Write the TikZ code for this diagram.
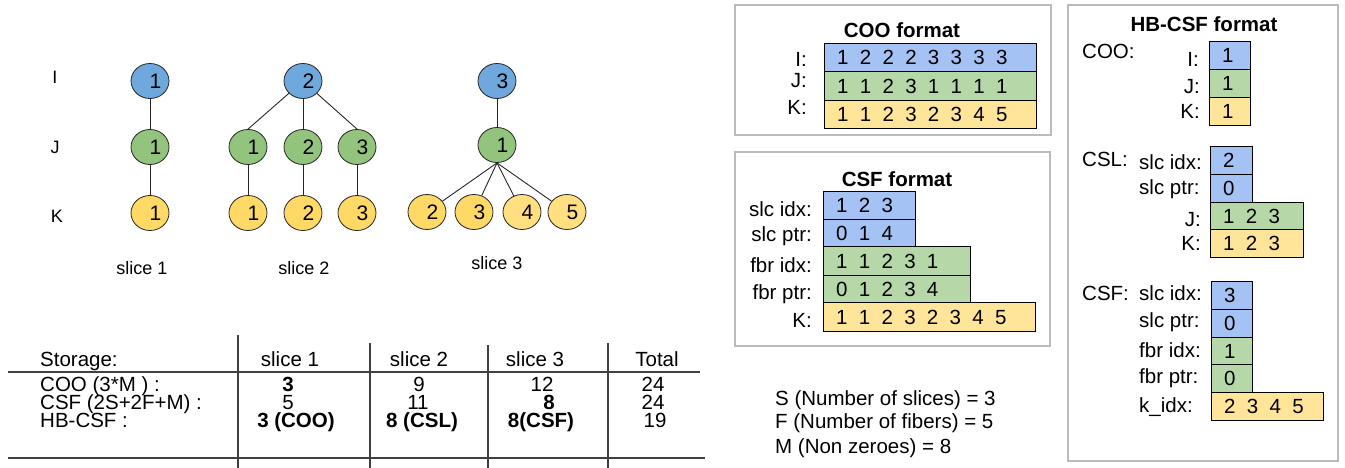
\documentclass[tikz,border=0pt]{standalone}
\usepackage{fontspec}
\setmainfont{Liberation Sans}
\usetikzlibrary{shapes.geometric}
\definecolor{vblue}{HTML}{6FA8DC}
\definecolor{vgreen}{HTML}{93C47D}
\definecolor{vyellow}{HTML}{FFD966}
\definecolor{vyellowb}{HTML}{FFDF80}
\definecolor{cblue}{HTML}{A4C2F4}
\definecolor{cgreen}{HTML}{B6D7A8}
\definecolor{cyellow}{HTML}{FFE599}
\definecolor{panelgray}{HTML}{BBBBBB}
\newcommand\dg{\hspace{11.3pt}}
\newcommand\vn[1]{\hspace*{11pt}#1}
\newcommand\cellrow[7]{%
  \node[cellbox, fill=#6, minimum width=#4pt, minimum height=#5pt, anchor=north west] (#1) at (#2,#3) {};
  \node[digs, anchor=west] (#1-d) at ([xshift=13pt]#1.west) {#7};}
\begin{document}
\begin{tikzpicture}[x=1pt,y=-1pt,
  vtx/.style={ellipse, draw=black!85, line width=0.8pt, minimum width=38pt, minimum height=35pt, inner sep=0pt, font=\fontsize{21}{21}\selectfont},
  vb/.style={vtx, fill=vblue}, vg/.style={vtx, fill=vgreen}, vy/.style={vtx, fill=vyellow}, vyb/.style={vtx, fill=vyellowb},
  edge/.style={draw=black!85, line width=0.9pt},
  glabel/.style={font=\fontsize{18}{18}\selectfont, inner sep=0pt},
  txt/.style={font=\fontsize{20.5}{20.5}\selectfont, inner sep=0pt},
  btxt/.style={font=\fontsize{20.5}{20.5}\selectfont\bfseries, inner sep=0pt},
  cellbox/.style={draw=black, line width=1pt, inner sep=0pt},
  digs/.style={font=\fontsize{20.5}{20.5}\selectfont, inner sep=0pt},
  panel/.style={draw=panelgray, line width=1.5pt},
  rule/.style={draw=black!75, line width=1.4pt}]
\useasboundingbox (0,0) rectangle (1345,468);

% ---------- graph ----------
\node[glabel] (lI) at (55,77) {I};
\node[glabel] (lJ) at (55,147) {J};
\node[glabel] (lK) at (57,216) {K};

\node[vb] (I1) at (150,81) {\vn{1}};
\node[vg] (J1) at (150,147) {\vn{1}};
\node[vy] (K1) at (150,213) {\vn{1}};

\node[vb] (I2) at (303,81) {\vn{2}};
\node[vg] (J2a) at (248,147) {\vn{1}};
\node[vg] (J2b) at (303,147) {\vn{2}};
\node[vg] (J2c) at (357,147) {\vn{3}};
\node[vy] (K2a) at (248,213) {\vn{1}};
\node[vy] (K2b) at (303,213) {\vn{2}};
\node[vy] (K2c) at (357,213) {\vn{3}};

\node[vb] (I3) at (497,81) {\vn{3}};
\node[vg] (J3) at (497,145) {\vn{1}};
\node[vy] (K3a) at (427,212) {\vn{2}};
\node[vy] (K3b) at (474,212) {\vn{3}};
\node[vyb] (K3c) at (522,212) {\vn{4}};
\node[vyb] (K3d) at (567,212) {\vn{5}};

\draw[edge] (I1) -- (J1);
\draw[edge] (J1) -- (K1);
\draw[edge] (I2) -- (J2a.north);
\draw[edge] (I2) -- (J2b);
\draw[edge] (I2) -- (J2c.north);
\draw[edge] (J2a) -- (K2a);
\draw[edge] (J2b) -- (K2b);
\draw[edge] (J2c) -- (K2c);
\draw[edge] (I3) -- (J3);
\draw[edge] (J3.south) -- (K3a);
\draw[edge] (J3.south) -- (K3b);
\draw[edge] (J3.south) -- (K3c);
\draw[edge] (J3.south) -- (K3d);

\node[glabel] (s1) at (142,268) {slice 1};
\node[glabel] (s2) at (304,268) {slice 2};
\node[glabel] (s3) at (497,263) {slice 3};

% ---------- table ----------
\draw[rule] (8,372) -- (700,372);
\draw[rule] (8,458) -- (705,458);
\draw[rule] (238,335) -- (238,468);
\draw[rule] (370,343) -- (370,468);
\draw[rule] (488,345) -- (488,468);
\draw[rule] (608,343) -- (608,468);

\node[txt, anchor=base west] (tS) at (40,366) {Storage:};
\node[txt, anchor=base west] (tC) at (40,391) {COO (3*M ) :};
\node[txt, anchor=base west] (tF) at (40,409) {CSF (2S+2F+M) :};
\node[txt, anchor=base west] (tH) at (40,427) {HB-CSF :};

\node[txt, anchor=base] (h1) at (290,366) {slice 1};
\node[txt, anchor=base] (h2) at (419,366) {slice 2};
\node[txt, anchor=base] (h3) at (535,366) {slice 3};
\node[txt, anchor=base] (h4) at (657,366) {Total};

\node[btxt, anchor=base] (c11) at (288,391) {3};
\node[txt, anchor=base] (c12) at (419,391) {9};
\node[txt, anchor=base] (c13) at (542,391) {12};
\node[txt, anchor=base] (c14) at (653,391) {24};

\node[txt, anchor=base] (c21) at (288,409) {5};
\node[txt, anchor=base] (c22) at (418,409) {11};
\node[btxt, anchor=base] (c23) at (549,409) {8};
\node[txt, anchor=base] (c24) at (653,409) {24};

\node[btxt, anchor=base] (c31) at (296,427) {3 (COO)};
\node[btxt, anchor=base] (c32) at (422,427) {8 (CSL)};
\node[btxt, anchor=base] (c33) at (541,427) {8(CSF)};
\node[txt, anchor=base] (c34) at (655,427) {19};

% ---------- COO format panel ----------
\draw[panel] (735,5) rectangle (1051,135);
\node[btxt, anchor=base] (cooT) at (902,38) {COO format};
\cellrow{cooI}{824}{43}{212}{28}{cblue}{1\dg 2\dg 2\dg 2\dg 3\dg 3\dg 3\dg 3}
\cellrow{cooJ}{824}{71}{212}{29}{cgreen}{1\dg 1\dg 2\dg 3\dg 1\dg 1\dg 1\dg 1}
\cellrow{cooK}{824}{100}{212}{28}{cyellow}{1\dg 1\dg 2\dg 3\dg 2\dg 3\dg 4\dg 5}
\node[txt, anchor=base east] (cooLI) at (807,67) {I:};
\node[txt, anchor=base east] (cooLJ) at (807,88) {J:};
\node[txt, anchor=base east] (cooLK) at (807,115) {K:};

% ---------- CSF format panel ----------
\draw[panel] (735,152) rectangle (1050,346);
\node[btxt, anchor=base] (csfT) at (897,186) {CSF format};
\cellrow{csfSI}{823}{191}{92}{28}{cblue}{1\dg 2\dg 3}
\cellrow{csfSP}{823}{219}{92}{27}{cblue}{0\dg 1\dg 4}
\cellrow{csfFI}{823}{246}{147}{29}{cgreen}{1\dg 1\dg 2\dg 3\dg 1}
\cellrow{csfFP}{823}{275}{147}{27}{cgreen}{0\dg 1\dg 2\dg 3\dg 4}
\cellrow{csfK}{823}{302}{212}{29}{cyellow}{1\dg 1\dg 2\dg 3\dg 2\dg 3\dg 4\dg 5}
\node[txt, anchor=base east] (csfL1) at (812,216) {slc idx:};
\node[txt, anchor=base east] (csfL2) at (812,241) {slc ptr:};
\node[txt, anchor=base east] (csfL3) at (812,272) {fbr idx:};
\node[txt, anchor=base east] (csfL4) at (812,299) {fbr ptr:};
\node[txt, anchor=base east] (csfL5) at (812,327) {K:};

% ---------- notes ----------
\node[txt, anchor=base west] (n1) at (775,405) {S (Number of slices) = 3};
\node[txt, anchor=base west] (n2) at (775,428) {F (Number of fibers) = 5};
\node[txt, anchor=base west] (n3) at (775,453) {M (Non zeroes) = 8};

% ---------- HB-CSF panel ----------
\draw[panel] (1068,5) rectangle (1338,461);
\node[btxt, anchor=base] (hbT) at (1204,32) {HB-CSF format};

\node[txt, anchor=base west] (hbCOO) at (1082,59) {COO:};
\cellrow{hcI}{1209}{41}{41}{28}{cblue}{1}
\cellrow{hcJ}{1209}{69}{41}{28}{cgreen}{1}
\cellrow{hcK}{1209}{97}{41}{28}{cyellow}{1}
\node[txt, anchor=base east] (hcLI) at (1199,67) {I:};
\node[txt, anchor=base east] (hcLJ) at (1200,94) {J:};
\node[txt, anchor=base east] (hcLK) at (1200,119) {K:};

\node[txt, anchor=base west] (hbCSL) at (1082,167) {CSL:};
\cellrow{hlSI}{1210}{146}{42}{28}{cblue}{2}
\cellrow{hlSP}{1210}{174}{42}{28}{cblue}{0}
\cellrow{hlJ}{1210}{202}{93}{27}{cgreen}{1\dg 2\dg 3}
\cellrow{hlK}{1210}{229}{93}{28}{cyellow}{1\dg 2\dg 3}
\node[txt, anchor=base west] (hlL1) at (1139,170) {slc idx:};
\node[txt, anchor=base west] (hlL2) at (1139,195) {slc ptr:};
\node[txt, anchor=base east] (hlL3) at (1201,226) {J:};
\node[txt, anchor=base east] (hlL4) at (1201,251) {K:};

\node[txt, anchor=base west] (hbCSF) at (1082,300) {CSF:};
\cellrow{hfSI}{1211}{281}{41}{28}{cblue}{3}
\cellrow{hfSP}{1211}{309}{41}{28}{cblue}{0}
\cellrow{hfFI}{1211}{337}{41}{27}{cgreen}{1}
\cellrow{hfFP}{1211}{364}{41}{28}{cgreen}{0}
\cellrow{hfK}{1211}{392}{112}{28}{cyellow}{2\dg 3\dg 4\dg 5}
\node[txt, anchor=base west] (hfL1) at (1139,300) {slc idx:};
\node[txt, anchor=base west] (hfL2) at (1139,327) {slc ptr:};
\node[txt, anchor=base west] (hfL3) at (1139,357) {fbr idx:};
\node[txt, anchor=base west] (hfL4) at (1139,383) {fbr ptr:};
\node[txt, anchor=base west] (hfL5) at (1139,412) {k\_idx:};
\end{tikzpicture}
\end{document}
